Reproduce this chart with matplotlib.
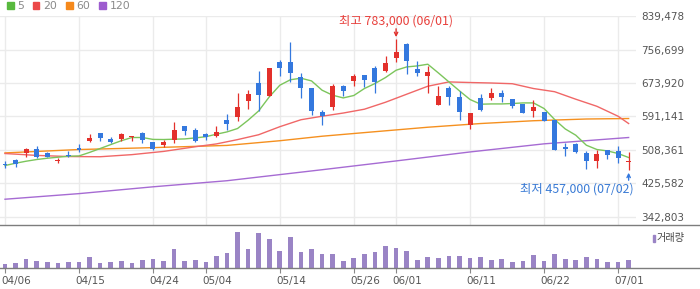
import matplotlib
matplotlib.use("Agg")
import matplotlib.pyplot as plt
from matplotlib.patches import Rectangle
from matplotlib.transforms import ScaledTranslation

# ---- daily candles (won), 04/06 .. 07/02 ----
opens = [472500, 484200, 499800, 511500, 499800, 480000, 494900, 514000, 530300, 549400,
         534600, 535300, 539500, 549400, 527100, 519700, 532100, 566800, 556900, 547000,
         543700, 581700, 589100, 629600, 674200, 642000, 725600, 725600, 688300, 661100,
         601500, 614700, 666000, 679200, 693300, 710700, 703200, 735500, 770200, 708200,
         691600, 619600, 661100, 638700, 570000, 636300, 637000, 649400, 633800, 622100,
         604000, 601500, 583400, 514700, 522100, 500600, 480700, 507300, 505500, 477500]
highs = [480000, 486700, 512200, 517200, 502300, 488200, 504800, 522100, 547000, 550700,
         541200, 549400, 543700, 552700, 527900, 533800, 576700, 566800, 561800, 550200,
         566800, 596600, 649400, 656100, 703200, 710700, 730500, 775200, 699000, 661100,
         606500, 672700, 668500, 695800, 693300, 715600, 740400, 783000, 772700, 728000,
         715600, 666000, 666000, 653600, 599000, 646900, 661800, 656800, 633800, 622100,
         631300, 601500, 583400, 525400, 525400, 505500, 508000, 507300, 517200, 502300]
lows = [464300, 465800, 490600, 488200, 489900, 476800, 489900, 503000, 527900, 529600,
        524600, 530300, 530300, 525400, 509000, 515500, 525400, 544500, 528800, 532800,
        539500, 557600, 579900, 609000, 604800, 642000, 691600, 675900, 637000, 594800,
        570000, 608200, 641200, 666800, 664300, 649400, 700800, 726300, 696500, 691600,
        649400, 619600, 619600, 582400, 560100, 604000, 632000, 626300, 612200, 599800,
        589900, 579900, 507300, 493100, 500600, 460900, 463400, 485700, 475800, 457000]
closes = [470800, 474300, 509700, 490600, 490600, 482500, 492400, 507300, 537000, 537800,
          527100, 547000, 542000, 532100, 511500, 527100, 557600, 555100, 530300, 539500,
          551900, 571800, 613900, 646200, 643700, 710700, 711400, 699000, 661800, 604800,
          591600, 666000, 654400, 690800, 681600, 675900, 723100, 750400, 728800, 698300,
          700800, 641200, 639500, 602300, 599000, 606500, 648700, 639500, 618100, 599800,
          613900, 579900, 509000, 511500, 502300, 480700, 499100, 495600, 489200, 480700]
volume = [13, 16, 28, 22, 19, 16, 19, 19, 34, 16,
          19, 22, 16, 25, 28, 22, 58, 22, 25, 19,
          37, 46, 109, 58, 106, 88, 52, 94, 49, 58,
          43, 43, 22, 31, 43, 49, 67, 61, 52, 25,
          34, 31, 37, 37, 31, 34, 25, 28, 19, 22,
          40, 22, 43, 28, 25, 34, 28, 19, 19, 25]

# ---- moving averages ----
ma5 = [469300, 475000, 480000, 484200, 487400, 489900, 492400, 493100, 501800, 511500,
       521200, 530800, 538800, 538800, 534100, 533800, 534600, 535300, 537800, 540800,
       547000, 552700, 561100, 581700, 604800, 639500, 668500, 682100, 685900, 679200,
       656100, 643700, 637000, 643000, 660300, 672700, 687600, 705700, 713900, 716400,
       720600, 699000, 676700, 654400, 633000, 621400, 622100, 622100, 623100, 624600,
       624600, 610700, 583400, 560100, 544500, 519700, 509000, 505500, 499100, 489200]
ma20_idx = [0, 3, 6, 9, 12, 15, 18, 20, 22, 24, 26, 28, 30, 32, 34, 36, 38, 40, 42, 44,
            46, 48, 50, 52, 54, 56, 58, 59]
ma20 = [499100, 494400, 491600, 491100, 496300, 504300, 515900, 522900, 533600, 545700,
        565600, 582900, 591600, 599500, 609000, 626300, 646200, 666000, 676700, 675200,
        674000, 672200, 660300, 652400, 633800, 616200, 591600, 573500]
ma60_idx = [0, 7, 14, 21, 26, 30, 35, 40, 45, 50, 55, 59]
ma60 = [500600, 509000, 513700, 519200, 530800, 542000, 553200, 564300, 573500, 580400,
        584700, 585900]
ma120_idx = [0, 7, 14, 21, 30, 37, 44, 51, 59]
ma120 = [385700, 399600, 416500, 431600, 458900, 480700, 503000, 523100, 538800]

tick_idx = [0, 7, 14, 19, 26, 33, 37, 44, 51, 58]
tick_lbl = ["04/06", "04/15", "04/24", "05/04", "05/14", "05/26", "06/01", "06/11", "06/22", "07/01"]
y_ticks = [342803, 425582, 508361, 591141, 673920, 756699, 839478]
ma_names = ["5", "20", "60", "120"]

UP, DOWN = "#e3302b", "#3478de"
LINE_C = ["#7cc55c", "#f06767", "#f5901f", "#a66bd3"]
LEG_C = ["#58b93e", "#eb4848", "#f5891c", "#9d5ccf"]
VOL_C = "#9a84c5"
GRID = "#ebebeb"
KR = ["Noto Sans CJK KR", "DejaVu Sans"]

W, H = 700, 289
fig = plt.figure(figsize=(7.0, 2.89), dpi=100)
px = lambda x0, y0, x1, y1: [x0 / W, 1 - y1 / H, (x1 - x0) / W, (y1 - y0) / H]

# ---- price panel ----
ax = fig.add_axes(px(0, 16.3, 636, 225))
n = len(opens)
idx = list(range(n))
xl = -(5 / 10.57)
ax.set_xlim(xl, (636 - 5) / 10.57)
ax.set_ylim(839478 - 208.7 / 33.37 * 82779, 839478)
for s in ax.spines.values():
    s.set_visible(False)
ax.set_yticks(y_ticks)
ax.set_yticklabels([f"{v:,}" for v in y_ticks])
ax.yaxis.tick_right()
ax.tick_params(axis="y", length=0, pad=4, labelsize=7.5, labelcolor="#555555")
ax.set_xticks(tick_idx)
ax.tick_params(axis="x", length=0, labelbottom=False)
ax.grid(True, color=GRID, lw=1.0)
ax.set_axisbelow(True)

ax.plot(ma120_idx, ma120, color=LINE_C[3], lw=1.0, zorder=2)
ax.plot(ma60_idx, ma60, color=LINE_C[2], lw=1.0, zorder=2)
ax.plot(ma20_idx, ma20, color=LINE_C[1], lw=1.0, zorder=2)
ax.plot(idx, ma5, color=LINE_C[0], lw=1.0, zorder=2)

minh = 3000
for i in idx:
    o, h, l, c = opens[i], highs[i], lows[i], closes[i]
    col = UP if c > o else DOWN
    ax.vlines(i, l, h, color=col, lw=0.9, zorder=3)
    ax.bar(i, max(abs(c - o), minh), bottom=min(o, c), width=0.47, color=col, lw=0, zorder=4)

hi = highs.index(max(highs))
lo = lows.index(min(lows))
ax.annotate("", xy=(hi, highs[hi]), xytext=(0, 7.4), textcoords="offset points",
            arrowprops=dict(arrowstyle="->", color="#e0302c", lw=1.0, shrinkA=0, shrinkB=1.4,
                            mutation_scale=6))
ax.annotate(f"최고 {highs[hi]:,} ({tick_lbl[6]})", xy=(hi, highs[hi]), xytext=(0, 13.1),
            textcoords="offset points", ha="center", va="center", color="#e8403c",
            fontsize=8.9, family=KR, annotation_clip=False)
ax.annotate("", xy=(lo, lows[lo]), xytext=(0, -7.0), textcoords="offset points",
            arrowprops=dict(arrowstyle="->", color="#3478de", lw=1.0, shrinkA=0, shrinkB=1.6,
                            mutation_scale=6))
ax.annotate(f"최저 {lows[lo]:,} (07/02)", xy=(lo, lows[lo]), xytext=(3.4, -13.5),
            textcoords="offset points", ha="right", va="center", color="#3a7bd5",
            fontsize=8.9, family=KR)

# ---- volume panel ----
av = fig.add_axes(px(0, 225, 700, 268.3))
av.set_xlim(xl, (700 - 5) / 10.57)
av.set_ylim(0, 130)
av.bar(idx, volume, width=0.44, color=VOL_C, lw=0)
for k in ["left", "right"]:
    av.spines[k].set_visible(False)
for k in ["top", "bottom"]:
    av.spines[k].set_color("#7d7d7d")
    av.spines[k].set_linewidth(1.0)
av.set_yticks([])
av.set_xticks(tick_idx)
av.set_xticklabels(tick_lbl)
av.tick_params(axis="x", length=3.6, width=0.8, color="#888888", pad=2.2,
               labelsize=7.5, labelcolor="#555555")
for lbl in av.get_xticklabels():
    lbl.set_ha("left")
    lbl.set_transform(lbl.get_transform() + ScaledTranslation(-3.3 / 100, 0, fig.dpi_scale_trans))
fig.patches.append(Rectangle((652.7 / W, 1 - 241.7 / H), 2.7 / W, 6.7 / H,
                             transform=fig.transFigure, color=VOL_C))
fig.text(657 / W, 1 - 238.5 / H, "거래량", family=KR, fontsize=7.3, color="#444444", va="center")

# ---- MA legend ----
lx = [7.3, 33.3, 66.3, 99.3]
for x0, c, name in zip(lx, LEG_C, ma_names):
    fig.patches.append(Rectangle((x0 / W, 1 - 8.6 / H), 6.2 / W, 6.2 / H,
                                 transform=fig.transFigure, color=c))
    fig.text((x0 + 10) / W, 1 - 5.6 / H, name, fontsize=7.8, color="#8a8a8a", va="center")

fig.savefig("out.png", dpi=100)
